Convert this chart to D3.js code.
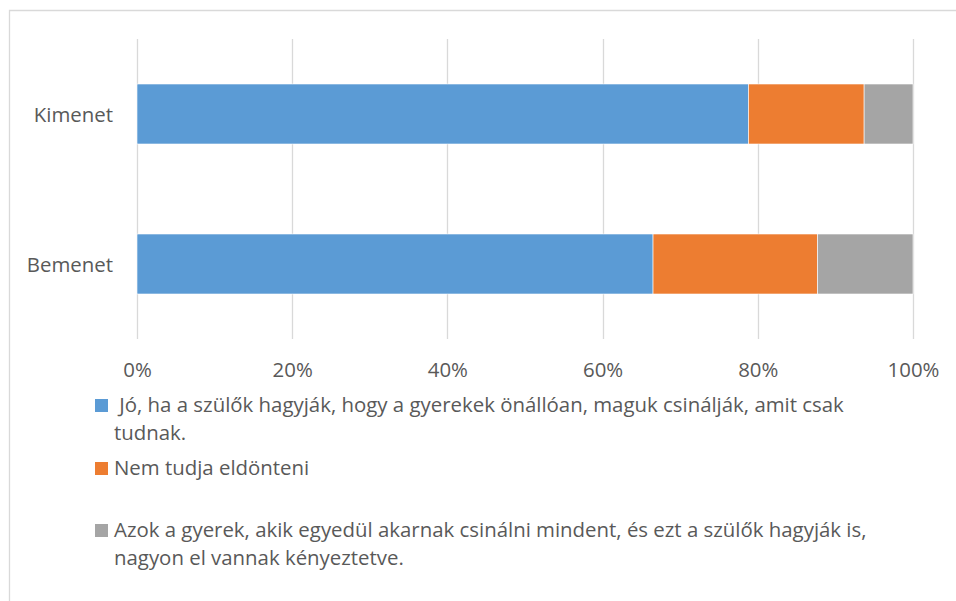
<!DOCTYPE html>
<html>
<head>
<meta charset="utf-8">
<script src="https://cdn.jsdelivr.net/npm/d3@7"></script>
<style>
  body { margin: 0; background: #fff; }
  text { font-family: "Open Sans", sans-serif; fill: #595959; }
</style>
</head>
<body>
<div id="chart"></div>
<script>
// data
var categories = ["Kimenet", "Bemenet"];
var seriesNames = [
  " Jó, ha a szülők hagyják, hogy a gyerekek önállóan, maguk csinálják, amit csak tudnak.",
  "Nem tudja eldönteni",
  "Azok a gyerek, akik egyedül akarnak csinálni mindent, és ezt a szülők hagyják is, nagyon el vannak kényeztetve."
];
var joValues = [0.788, 0.665];
var nemTudjaValues = [0.149, 0.212];
var azokValues = [0.063, 0.123];
var tickValues = [0, 0.2, 0.4, 0.6, 0.8, 1];

// legend lines (wrapped as in the original)
var legendLines = [
  [" Jó, ha a szülők hagyják, hogy a gyerekek önállóan, maguk csinálják, amit csak", "tudnak."],
  ["Nem tudja eldönteni"],
  ["Azok a gyerek, akik egyedül akarnak csinálni mindent, és ezt a szülők hagyják is,", "nagyon el vannak kényeztetve."]
];

var colors = ["#5b9bd5", "#ed7d31", "#a5a5a5"];

var svgWidth = 956;
var svgHeight = 601;
var fontSize = 20.4;

var svg = d3.select("#chart")
  .append("svg")
  .attr("width", svgWidth)
  .attr("height", svgHeight);

svg.append("rect")
  .attr("width", svgWidth)
  .attr("height", svgHeight)
  .attr("fill", "#fff");

// chart border (cropped on right and bottom)
svg.append("path")
  .attr("d", "M9.5," + svgHeight + "V10.5H" + svgWidth)
  .attr("fill", "none")
  .attr("stroke", "#d9d9d9")
  .attr("stroke-width", 1.3);

var plot = { left: 137, right: 913, top: 39, bottom: 339 };

var x = d3.scaleLinear()
  .domain([0, 1])
  .range([plot.left, plot.right]);

var y = d3.scaleBand()
  .domain(categories)
  .range([plot.top, plot.bottom])
  .paddingInner(0.6)
  .paddingOuter(0.3);

// gridlines
svg.append("g")
  .selectAll("line")
  .data(tickValues)
  .enter()
  .append("line")
  .attr("x1", d => Math.round(x(d)) + 0.5)
  .attr("x2", d => Math.round(x(d)) + 0.5)
  .attr("y1", plot.top)
  .attr("y2", plot.bottom)
  .attr("stroke", "#d9d9d9")
  .attr("stroke-width", 1.3);

// stack the series
var rows = categories.map(function(c, i) {
  return { cat: c, s0: joValues[i], s1: nemTudjaValues[i], s2: azokValues[i] };
});
var stack = d3.stack().keys(["s0", "s1", "s2"]);
var stacked = stack(rows);

svg.append("g")
  .selectAll("g")
  .data(stacked)
  .enter()
  .append("g")
  .attr("fill", (d, i) => colors[i])
  .selectAll("rect")
  .data(d => d)
  .enter()
  .append("rect")
  .attr("x", d => x(d[0]))
  .attr("width", d => x(d[1]) - x(d[0]))
  .attr("y", d => y(d.data.cat))
  .attr("height", y.bandwidth())
  .attr("stroke", "#fff")
  .attr("stroke-width", 0.6);

// x axis labels
var xAxis = d3.axisBottom(x)
  .tickValues(tickValues)
  .tickFormat(d3.format(".0%"))
  .tickSize(0)
  .tickPadding(0);

var gx = svg.append("g")
  .attr("transform", "translate(0," + plot.bottom + ")")
  .call(xAxis);
gx.select(".domain").remove();
gx.selectAll("text")
  .attr("y", 38)
  .attr("dy", null)
  .style("font-family", "\"Open Sans\", sans-serif")
  .style("font-size", fontSize + "px")
  .attr("fill", "#595959");

// y axis labels
var yAxis = d3.axisLeft(y).tickSize(0).tickPadding(24);
var gy = svg.append("g")
  .attr("transform", "translate(" + plot.left + ",0)")
  .call(yAxis);
gy.select(".domain").remove();
gy.selectAll("text")
  .attr("dy", "0.38em")
  .style("font-family", "\"Open Sans\", sans-serif")
  .style("font-size", fontSize + "px")
  .attr("fill", "#595959");

// legend
var legendTop = [412, 475, 537];
var lineGap = 28;

var legend = svg.append("g");
legendLines.forEach(function(lines, i) {
  legend.append("rect")
    .attr("x", 95)
    .attr("y", legendTop[i] - 13)
    .attr("width", 13)
    .attr("height", 13)
    .attr("fill", colors[i]);

  var t = legend.append("text")
    .attr("x", 114)
    .attr("y", legendTop[i])
    .style("font-size", fontSize + "px")
    .style("white-space", "pre");
  lines.forEach(function(line, j) {
    t.append("tspan")
      .attr("x", 114)
      .attr("y", legendTop[i] + j * lineGap)
      .text(line);
  });
});
</script>
</body>
</html>
